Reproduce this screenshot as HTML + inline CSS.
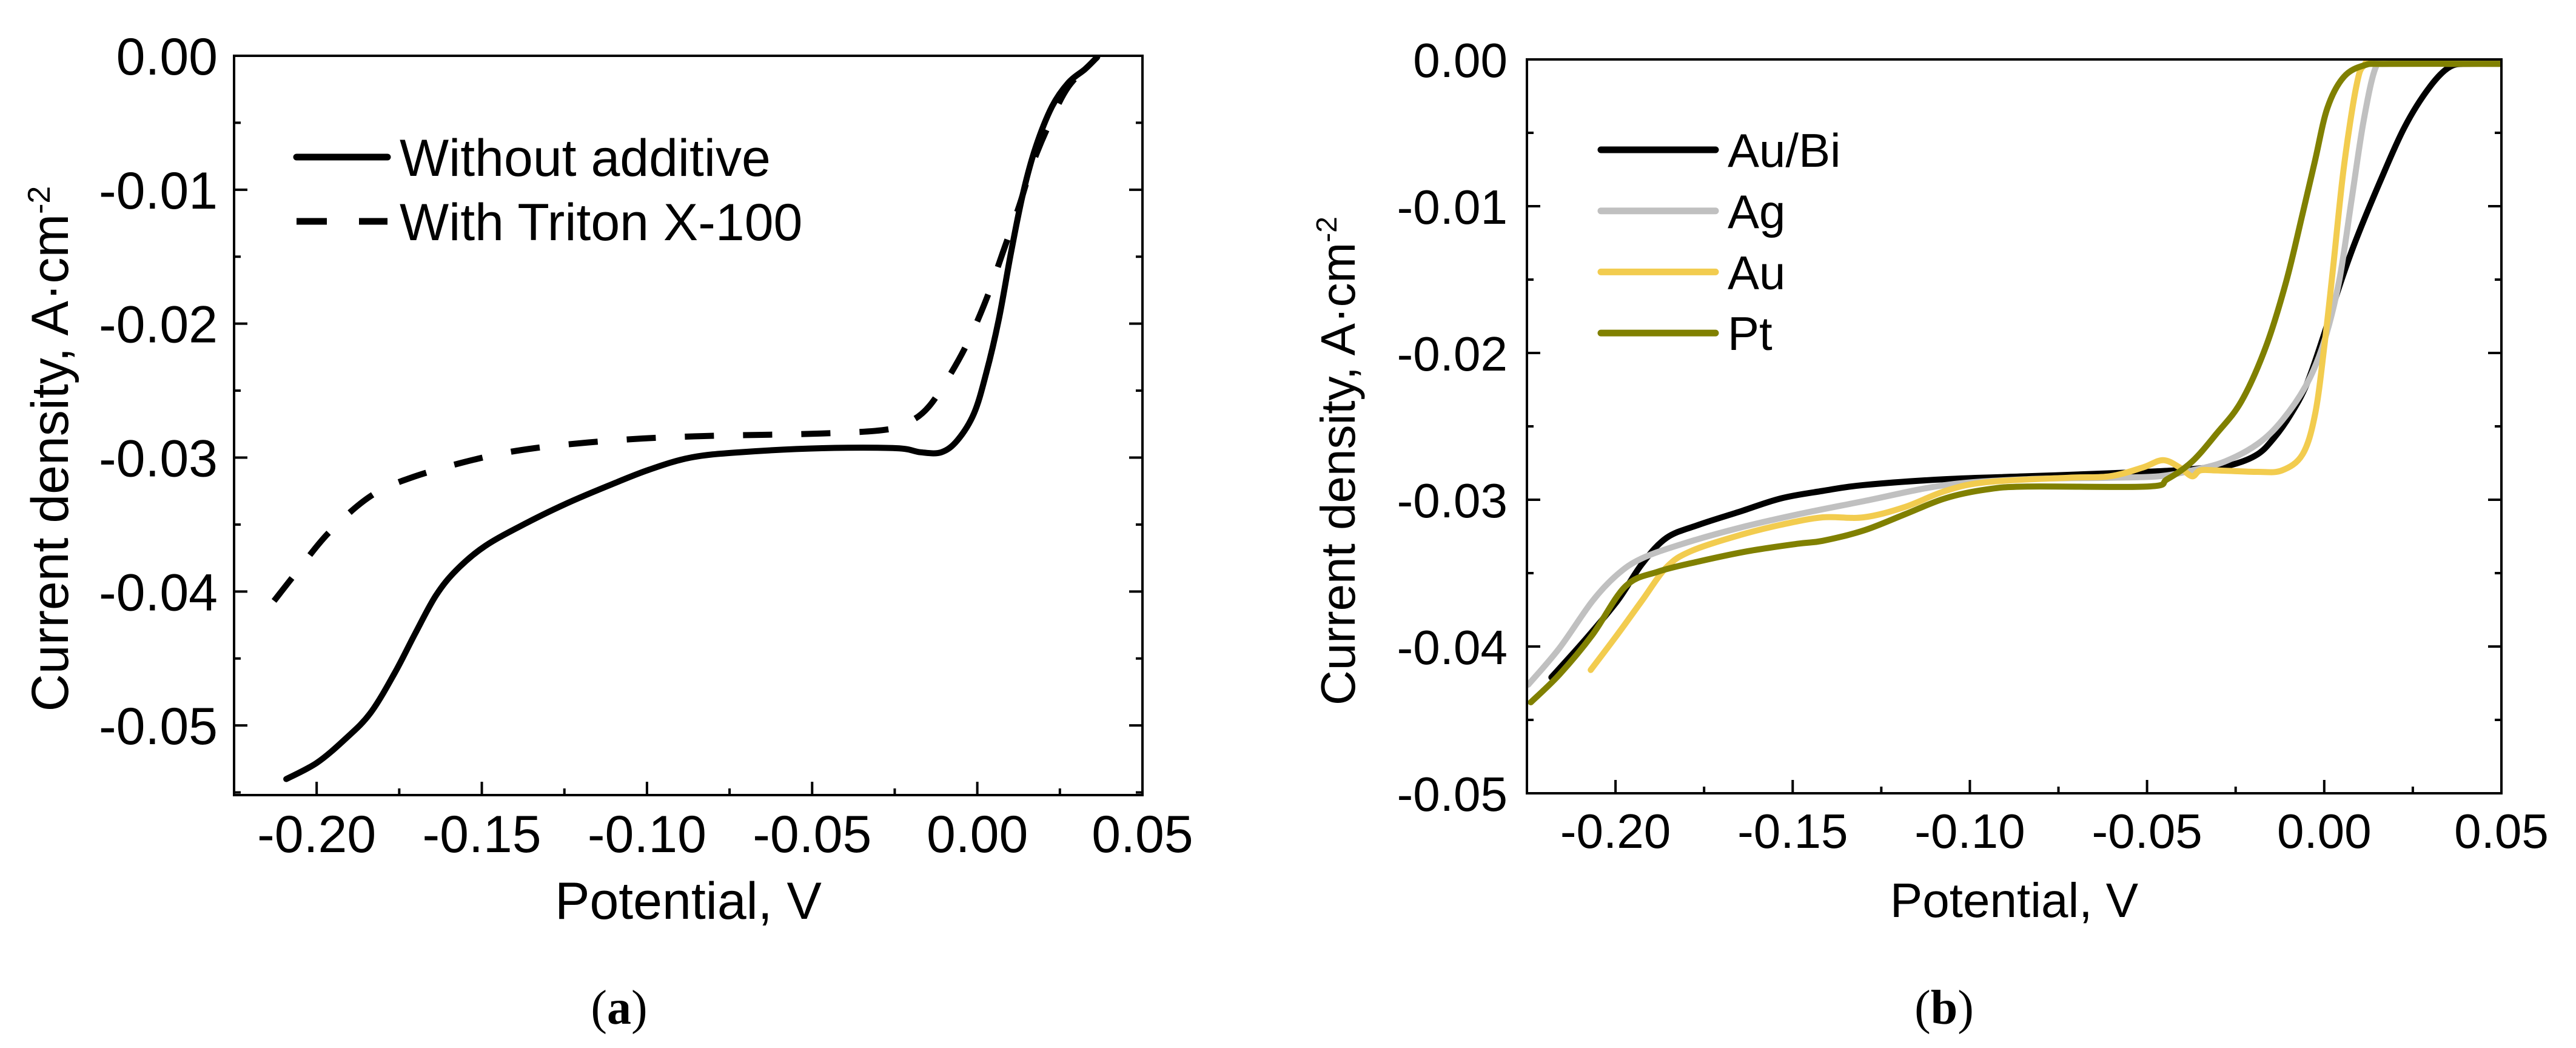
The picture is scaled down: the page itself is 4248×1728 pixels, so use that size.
<!DOCTYPE html>
<html><head><meta charset="utf-8"><style>
html,body{margin:0;padding:0;background:#fff;}
svg{display:block;}
text{font-family:"Liberation Sans",Arial,sans-serif;fill:#000;}
</style></head><body>
<svg id="fig" width="4248" height="1728" viewBox="0 0 4248 1728" xmlns="http://www.w3.org/2000/svg"></svg>
<script>
// Panel (a) data
const aXTicks = [-0.20, -0.15, -0.10, -0.05, 0.00, 0.05];
const aXTickLabels = ["-0.20", "-0.15", "-0.10", "-0.05", "0.00", "0.05"];
const aYTicks = [0, -0.01, -0.02, -0.03, -0.04, -0.05];
const aYTickLabels = ["0.00", "-0.01", "-0.02", "-0.03", "-0.04", "-0.05"];
const aSolidX = [-0.2092,-0.200,-0.1913,-0.1838,-0.1764,-0.1701,-0.1639,-0.1577,-0.1490,-0.1366,-0.1241,-0.1117,-0.0993,-0.0868,-0.0719,-0.0470,-0.0246,-0.0172,-0.0109,-0.0060,-0.0010,0.0027,0.0065,0.0102,0.0139,0.0177,0.0226,0.0276,0.0326,0.0363];
const aSolidY = [-0.0540,-0.0528,-0.0510,-0.0491,-0.0461,-0.0431,-0.0403,-0.0384,-0.0366,-0.0349,-0.0334,-0.0321,-0.0309,-0.0300,-0.0296,-0.0293,-0.0293,-0.0296,-0.0296,-0.0287,-0.0267,-0.0237,-0.0197,-0.0147,-0.0102,-0.0068,-0.0038,-0.0020,-0.0010,-0.0001];
const aDashX = [-0.2129,-0.2062,-0.1963,-0.1838,-0.1714,-0.1515,-0.1341,-0.1092,-0.0843,-0.0470,-0.0271,-0.0196,-0.0147,-0.0097,-0.0035,0.0027,0.0077,0.0127,0.0164,0.0214,0.0276,0.0363];
const aDashY = [-0.0407,-0.0386,-0.0356,-0.0329,-0.0315,-0.0301,-0.0293,-0.0287,-0.0284,-0.0282,-0.0279,-0.0272,-0.0262,-0.0244,-0.0217,-0.0182,-0.0147,-0.0112,-0.0083,-0.0053,-0.0023,-0.0001];
const aSeriesNames = ["Without additive", "With Triton X-100"];

// Panel (b) data
const bXTicks = [-0.20, -0.15, -0.10, -0.05, 0.00, 0.05];
const bXTickLabels = ["-0.20", "-0.15", "-0.10", "-0.05", "0.00", "0.05"];
const bYTicks = [0, -0.01, -0.02, -0.03, -0.04, -0.05];
const bYTickLabels = ["0.00", "-0.01", "-0.02", "-0.03", "-0.04", "-0.05"];
const bSeriesNames = ["Au/Bi", "Ag", "Au", "Pt"];
const auBiX = [-0.2181,-0.2088,-0.1995,-0.1926,-0.1856,-0.1764,-0.1648,-0.1532,-0.1416,-0.1300,-0.1069,-0.0837,-0.0605,-0.0420,-0.0327,-0.0258,-0.0188,-0.0142,-0.0095,-0.0049,0.0000,0.0042,0.0088,0.0158,0.0227,0.0297,0.0355,0.0413,0.0500];
const auBiY = [-0.0421,-0.0396,-0.0369,-0.0344,-0.0326,-0.0317,-0.0308,-0.0299,-0.0294,-0.0290,-0.0286,-0.0284,-0.0282,-0.0280,-0.0278,-0.0276,-0.0269,-0.0258,-0.0242,-0.0221,-0.0187,-0.0155,-0.0124,-0.0083,-0.0046,-0.0019,-0.0005,-0.0003,-0.0003];
const agX = [-0.2246,-0.2158,-0.2065,-0.1995,-0.1926,-0.1810,-0.1648,-0.1486,-0.1300,-0.1069,-0.0837,-0.0605,-0.0466,-0.0373,-0.0281,-0.0188,-0.0119,-0.0049,0.0000,0.0042,0.0077,0.0111,0.0146,0.0181,0.0500];
const agY = [-0.0426,-0.0401,-0.0369,-0.0351,-0.0340,-0.0330,-0.0319,-0.0310,-0.0301,-0.0290,-0.0286,-0.0285,-0.0284,-0.0280,-0.0274,-0.0262,-0.0246,-0.0221,-0.0192,-0.0151,-0.0096,-0.0042,-0.0005,-0.0003,-0.0003];
const auX = [-0.2070,-0.1995,-0.1926,-0.1856,-0.1787,-0.1648,-0.1532,-0.1416,-0.1300,-0.1184,-0.1069,-0.0953,-0.0721,-0.0605,-0.0512,-0.0455,-0.0408,-0.0373,-0.0350,-0.0304,-0.0188,-0.0119,-0.0061,-0.0026,0.0000,0.0025,0.0055,0.0090,0.0113,0.0160,0.0500];
const auY = [-0.0416,-0.0392,-0.0369,-0.0346,-0.0335,-0.0324,-0.0317,-0.0312,-0.0312,-0.0305,-0.0294,-0.0288,-0.0285,-0.0284,-0.0278,-0.0273,-0.0278,-0.0284,-0.0280,-0.0280,-0.0281,-0.0280,-0.0269,-0.0242,-0.0196,-0.0142,-0.0074,-0.0019,-0.0004,-0.0003,-0.0003];
const ptX = [-0.2239,-0.2158,-0.2065,-0.1972,-0.1880,-0.1764,-0.1625,-0.1486,-0.1416,-0.1300,-0.1184,-0.1069,-0.0953,-0.0837,-0.0499,-0.0443,-0.0373,-0.0304,-0.0234,-0.0165,-0.0107,-0.0061,-0.0026,0.0009,0.0055,0.0113,0.0181,0.0500];
const ptY = [-0.0438,-0.0419,-0.0392,-0.0359,-0.0349,-0.0342,-0.0335,-0.0330,-0.0328,-0.0321,-0.0310,-0.0299,-0.0293,-0.0291,-0.0291,-0.0286,-0.0274,-0.0255,-0.0233,-0.0196,-0.0151,-0.0105,-0.0069,-0.0033,-0.0012,-0.0004,-0.0003,-0.0003];

const NS = "http://www.w3.org/2000/svg";
const svg = document.getElementById('fig');
function mk(tag, attrs, parent) {
  const e = document.createElementNS(NS, tag);
  for (const k in attrs) e.setAttribute(k, attrs[k]);
  (parent || svg).appendChild(e);
  return e;
}
function scale(d0, d1, p0, p1) { return v => p0 + (v - d0) / (d1 - d0) * (p1 - p0); }
function smoothPath(P) {
  let d = 'M' + P[0][0].toFixed(1) + ',' + P[0][1].toFixed(1);
  for (let i = 0; i < P.length - 1; i++) {
    const p0 = P[Math.max(0, i - 1)], p1 = P[i], p2 = P[i + 1], p3 = P[Math.min(P.length - 1, i + 2)];
    const c1 = [p1[0] + (p2[0] - p0[0]) / 6, p1[1] + (p2[1] - p0[1]) / 6];
    const c2 = [p2[0] - (p3[0] - p1[0]) / 6, p2[1] - (p3[1] - p1[1]) / 6];
    d += 'C' + c1.map(v => v.toFixed(1)).join(',') + ' ' + c2.map(v => v.toFixed(1)).join(',') + ' ' + p2[0].toFixed(1) + ',' + p2[1].toFixed(1);
  }
  return d;
}

function drawPanel(cfg) {
  const g = mk('g', {});
  
  
  const sx = scale(cfg.xmin, cfg.xmax, cfg.L, cfg.R);
  const sy = scale(cfg.ymin, cfg.ymax, cfg.B, cfg.T);
  const clipId = cfg.name + '-clip';
  const cp = mk('clipPath', {id: clipId}, g);
  mk('rect', {x: cfg.L, y: cfg.T, width: cfg.R - cfg.L, height: cfg.B - cfg.T}, cp);
  const sg = mk('g', {'clip-path': 'url(#' + clipId + ')'}, g);
  cfg.series.forEach(s => {
    const pts = s.x.map((v, i) => [sx(v), sy(s.y[i])]);
    const pl = mk('path', {d: smoothPath(pts), fill: 'none', stroke: s.color, 'stroke-width': 10,
      'stroke-linejoin': 'round', 'stroke-linecap': s.dash ? 'butt' : 'round'}, sg);
    if (s.dash) pl.setAttribute('stroke-dasharray', s.dash);
    
    
  });
  const frame = mk('rect', {x: cfg.L, y: cfg.T, width: cfg.R - cfg.L, height: cfg.B - cfg.T, fill: 'none', stroke: '#000', 'stroke-width': 4}, g);
  
  
  cfg.xTicks.forEach((v, i) => {
    const x = sx(v);
    mk('line', {x1: x, x2: x, y1: cfg.B, y2: cfg.B - 22, stroke: '#000', 'stroke-width': 4}, g);
    const t = mk('text', {x: x, y: cfg.B + cfg.xLabOff, 'text-anchor': 'middle', 'font-size': cfg.fs}, g);
    t.textContent = cfg.xTickLabels[i];
    
    
    if (i < cfg.xTicks.length - 1) {
      const xm = sx(v + 0.025);
      mk('line', {x1: xm, x2: xm, y1: cfg.B, y2: cfg.B - 11, stroke: '#000', 'stroke-width': 4}, g);
    }
  });
  cfg.yTicks.forEach((v, i) => {
    const y = sy(v);
    [[cfg.L, 22], [cfg.R, -22]].forEach(([x0, d]) => {
      mk('line', {x1: x0, x2: x0 + d, y1: y, y2: y, stroke: '#000', 'stroke-width': 4}, g);
      const ym = sy(v - 0.005);
      if (ym <= cfg.B) mk('line', {x1: x0, x2: x0 + d / 2, y1: ym, y2: ym, stroke: '#000', 'stroke-width': 4}, g);
    });
    const t = mk('text', {x: cfg.L - cfg.yLabGap, y: y + cfg.fs * 0.36, 'text-anchor': 'end', 'font-size': cfg.fs}, g);
    t.textContent = cfg.yTickLabels[i];
    
    
  });
  const xt = mk('text', {x: (cfg.L + cfg.R) / 2, y: cfg.xTitleY, 'text-anchor': 'middle', 'font-size': cfg.fs}, g);
  xt.textContent = 'Potential, V';
  
  
  const yt = mk('text', {x: 0, y: 0, 'text-anchor': 'middle', 'font-size': cfg.fs,
    transform: 'translate(' + cfg.yTitleX + ',' + cfg.yTitleY + ') rotate(-90)'}, g);
  yt.innerHTML = 'Current density, A·cm<tspan dy="-30" font-size="' + Math.round(cfg.fs * 0.6) + '">-2</tspan>';
  
  
  cfg.series.forEach((s, i) => {
    const ly = cfg.legY + i * cfg.legStep;
    const ln = mk('line', {x1: cfg.legX0, x2: cfg.legX1, y1: ly, y2: ly, stroke: s.color, 'stroke-width': 11, 'stroke-linecap': s.dash ? 'butt' : 'round'}, g);
    if (s.dash) ln.setAttribute('stroke-dasharray', '50 53');
    
    
    const t = mk('text', {x: cfg.legX1 + 20, y: ly + cfg.legFs * 0.36, 'font-size': cfg.legFs}, g);
    t.textContent = s.label;
    
    
  });
  const cap = mk('text', {x: cfg.capX, y: 1688, 'text-anchor': 'middle', 'font-size': 80,
    style: 'font-family:"Liberation Serif",serif'}, g);
  cap.innerHTML = '(<tspan font-weight="bold">' + cfg.cap + '</tspan>)';
  
  
}

drawPanel({name: 'panel-a', L: 386, R: 1884, T: 92, B: 1311, xmin: -0.225, xmax: 0.05, ymin: -0.0552, ymax: 0,
  xTicks: aXTicks, xTickLabels: aXTickLabels, yTicks: aYTicks, yTickLabels: aYTickLabels,
  fs: 86, xLabOff: 94, yLabGap: 27, xTitleY: 1515, yTitleX: 112, yTitleY: 740,
  series: [
    {id: 'series-without-additive', label: aSeriesNames[0], x: aSolidX, y: aSolidY, color: '#000'},
    {id: 'series-triton', label: aSeriesNames[1], x: aDashX, y: aDashY, color: '#000', dash: '48 48'}
  ],
  legX0: 489, legX1: 639, legY: 259, legStep: 106, legFs: 86, capX: 1021, cap: 'a'});

drawPanel({name: 'panel-b', L: 2518, R: 4125, T: 98, B: 1308, xmin: -0.225, xmax: 0.05, ymin: -0.05, ymax: 0,
  xTicks: bXTicks, xTickLabels: bXTickLabels, yTicks: bYTicks, yTickLabels: bYTickLabels,
  fs: 80, xLabOff: 90, yLabGap: 32, xTitleY: 1512, yTitleX: 2234, yTitleY: 760,
  series: [
    {id: 'series-au-bi', label: bSeriesNames[0], x: auBiX, y: auBiY, color: '#000000'},
    {id: 'series-ag', label: bSeriesNames[1], x: agX, y: agY, color: '#c0c0c0'},
    {id: 'series-au', label: bSeriesNames[2], x: auX, y: auY, color: '#f2cc4f'},
    {id: 'series-pt', label: bSeriesNames[3], x: ptX, y: ptY, color: '#808000'}
  ],
  legX0: 2640, legX1: 2829, legY: 247, legStep: 100.7, legFs: 78, capX: 3206, cap: 'b'});
</script>
</body></html>
